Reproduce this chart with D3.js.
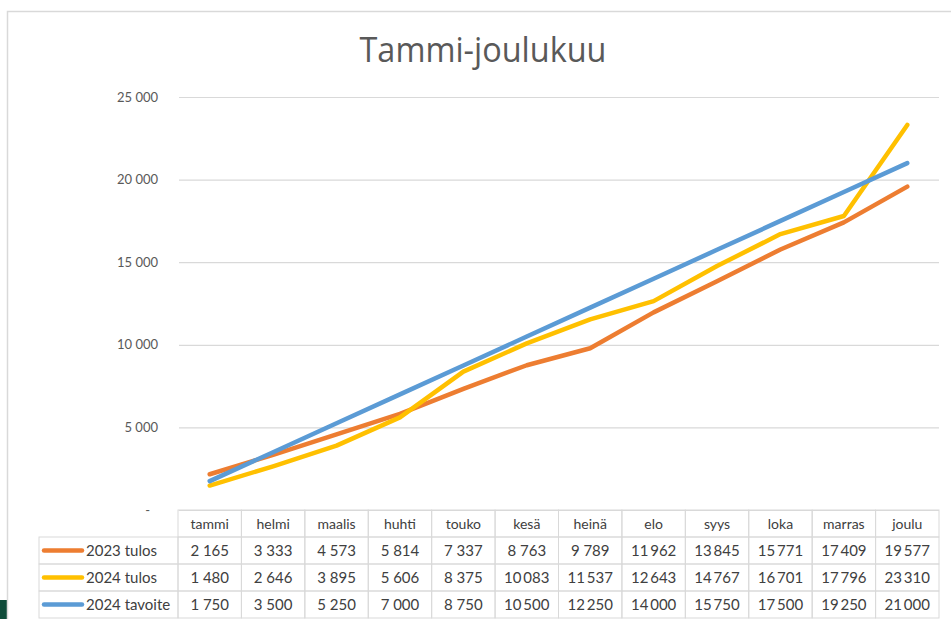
<!DOCTYPE html>
<html>
<head>
<meta charset="utf-8">
<script src="https://cdn.jsdelivr.net/npm/d3@7"></script>
<style>
  body { margin: 0; background: #fff; }
  svg { display: block; }
  text { font-family: Lato, "Open Sans", sans-serif; }
</style>
</head>
<body>
<svg id="chart" width="951" height="619"></svg>
<script>
const months = ['tammi', 'helmi', 'maalis', 'huhti', 'touko', 'kesä', 'heinä', 'elo', 'syys', 'loka', 'marras', 'joulu'];
const tulos2023 = [2165, 3333, 4573, 5814, 7337, 8763, 9789, 11962, 13845, 15771, 17409, 19577];
const tulos2024 = [1480, 2646, 3895, 5606, 8375, 10083, 11537, 12643, 14767, 16701, 17796, 23310];
const tavoite2024 = [1750, 3500, 5250, 7000, 8750, 10500, 12250, 14000, 15750, 17500, 19250, 21000];
const seriesNames = ['2023 tulos', '2024 tulos', '2024 tavoite'];
const yTicks = [0, 5000, 10000, 15000, 20000, 25000];

const series = [
  {name: seriesNames[0], values: tulos2023, color: '#ed7d31'},
  {name: seriesNames[1], values: tulos2024, color: '#ffc000'},
  {name: seriesNames[2], values: tavoite2024, color: '#5b9bd5'}
];

const svg = d3.select('#chart');
const gridColor = '#d9d9d9';
const textColor = '#595959';

// space as thousands separator (table squeezes it for 5 digits)
const fmt = v => {
  if (v === 0) return '-';
  const s = d3.format(',')(v);
  return s.replace(',', v >= 10000 ? '\u2009' : ' ');
};
const tickFmt = v => v === 0 ? '-' : d3.format(',')(v).replace(',', '\u2005');

// background bits
svg.append('rect').attr('x', 0).attr('y', 600).attr('width', 7).attr('height', 19).attr('fill', '#0f4c3a');
svg.append('path')
  .attr('d', 'M7.5,619 V11.5 H951')
  .attr('fill', 'none')
  .attr('stroke', gridColor)
  .attr('stroke-width', 1.5);

const x = d3.scaleBand().domain(months).range([178, 939]);
const y = d3.scaleLinear().domain([0, 25000]).range([510, 97]);

// title
svg.append('text')
  .attr('x', 483)
  .attr('y', 62)
  .attr('text-anchor', 'middle')
  .attr('font-size', 34)
  .attr('fill', textColor)
  .attr('textLength', 247)
  .attr('lengthAdjust', 'spacingAndGlyphs')
  .style('font-family', '"Open Sans", sans-serif')
  .text('Tammi-joulukuu');

// y axis + gridlines
const yAxis = svg.append('g')
  .attr('transform', 'translate(179,0)')
  .call(d3.axisLeft(y).tickValues(yTicks).tickSize(-(939 - 179)).tickPadding(21).tickFormat(tickFmt));
yAxis.select('.domain').remove();
yAxis.selectAll('.tick line').attr('stroke', gridColor).attr('stroke-width', 1.2);
yAxis.selectAll('.tick text')
  .attr('fill', textColor)
  .attr('font-size', 13)
  .style('font-family', 'Lato, sans-serif')
  .attr('dx', d => d === 0 ? -8 : 0);

// lines
const line = d3.line()
  .x((d, i) => x(months[i]) + x.bandwidth() / 2)
  .y(d => y(d));

svg.append('g')
  .selectAll('path')
  .data(series)
  .join('path')
  .attr('d', d => line(d.values))
  .attr('fill', 'none')
  .attr('stroke', d => d.color)
  .attr('stroke-width', 4.5)
  .attr('stroke-linecap', 'round')
  .attr('stroke-linejoin', 'round');

// data table
const rowTop = 510;
const rowH = 27;
const legendLeft = 39;
const table = svg.append('g');

// header row
const header = table.selectAll('g.head')
  .data(months)
  .join('g')
  .attr('class', 'head');
header.append('rect')
  .attr('x', d => x(d))
  .attr('y', rowTop)
  .attr('width', x.bandwidth())
  .attr('height', rowH)
  .attr('fill', 'none')
  .attr('stroke', gridColor);
header.append('text')
  .attr('x', d => x(d) + x.bandwidth() / 2)
  .attr('y', rowTop + rowH / 2 + 5)
  .attr('text-anchor', 'middle')
  .attr('font-size', 14)
  .attr('fill', '#404040')
  .text(d => d);

// series rows
const rows = table.selectAll('g.row')
  .data(series)
  .join('g')
  .attr('class', 'row')
  .attr('transform', (d, i) => `translate(0,${rowTop + rowH * (i + 1)})`);

rows.append('rect')
  .attr('x', legendLeft)
  .attr('y', 0)
  .attr('width', 178 - legendLeft)
  .attr('height', rowH)
  .attr('fill', 'none')
  .attr('stroke', gridColor);
rows.append('line')
  .attr('x1', 44).attr('x2', 82)
  .attr('y1', rowH / 2).attr('y2', rowH / 2)
  .attr('stroke', d => d.color)
  .attr('stroke-width', 4.5)
  .attr('stroke-linecap', 'round');
rows.append('text')
  .attr('x', 86)
  .attr('y', rowH / 2 + 5)
  .attr('font-size', 15)
  .attr('fill', '#404040')
  .text(d => d.name);

rows.selectAll('rect.cell')
  .data(d => d.values)
  .join('rect')
  .attr('class', 'cell')
  .attr('x', (v, i) => x(months[i]))
  .attr('y', 0)
  .attr('width', x.bandwidth())
  .attr('height', rowH)
  .attr('fill', 'none')
  .attr('stroke', gridColor);
rows.selectAll('text.val')
  .data(d => d.values)
  .join('text')
  .attr('class', 'val')
  .attr('x', (v, i) => x(months[i]) + x.bandwidth() / 2)
  .attr('y', rowH / 2 + 5)
  .attr('text-anchor', 'middle')
  .attr('font-size', 15)
  .attr('fill', '#404040')
  .text(v => fmt(v));
</script>
</body>
</html>
